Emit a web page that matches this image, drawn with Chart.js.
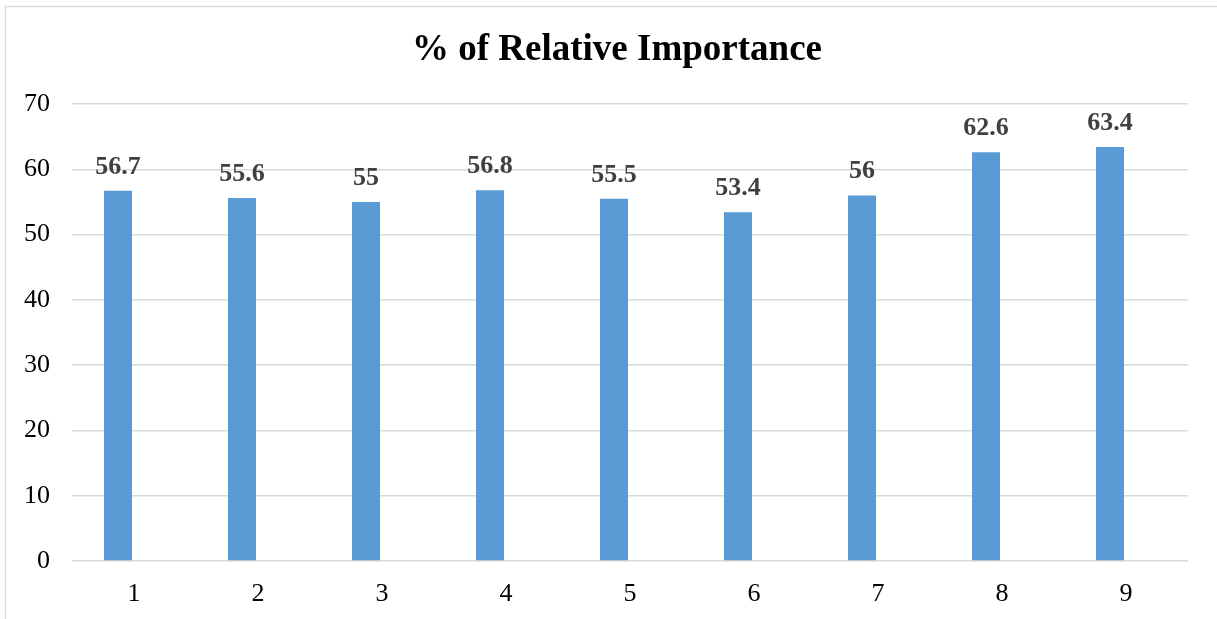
<!DOCTYPE html>
<html lang="en">
<head>
    <meta charset="UTF-8">
    <title>% of Relative Importance</title>
    <script src="https://cdn.jsdelivr.net/npm/chart.js"></script>
    <style>
        html, body {
            margin: 0;
            padding: 0;
            background: #fff;
        }
        #wrap {
            width: 1217px;
            height: 619px;
            position: relative;
        }
    </style>
</head>
<body>
    <div id="wrap">
        <canvas id="chartCanvas" width="1217" height="619"></canvas>
    </div>

    <script>
        const categories = ['1', '2', '3', '4', '5', '6', '7', '8', '9'];
        const importance = [56.7, 55.6, 55, 56.8, 55.5, 53.4, 56, 62.6, 63.4];
        // the original has a second, empty series next to each bar
        const emptySeries = [null, null, null, null, null, null, null, null, null];
        const yTicks = [0, 10, 20, 30, 40, 50, 60, 70];
        const chartTitle = '% of Relative Importance';

        const serif = '"Liberation Serif", "Times New Roman", serif';

        // outer frame + title + value labels
        const decorations = {
            id: 'decorations',
            beforeDraw(chart) {
                const ctx = chart.ctx;
                ctx.save();
                ctx.fillStyle = '#fff';
                ctx.fillRect(0, 0, chart.width, chart.height);
                ctx.strokeStyle = '#d9d9d9';
                ctx.lineWidth = 1.5;
                ctx.strokeRect(5.5, 6.5, 1240, 700);
                ctx.restore();
            },
            afterDatasetsDraw(chart) {
                const ctx = chart.ctx;
                ctx.save();
                ctx.fillStyle = '#000';
                ctx.font = 'bold 37px ' + serif;
                ctx.textAlign = 'center';
                ctx.textBaseline = 'alphabetic';
                ctx.fillText(chartTitle, 617, 60);

                ctx.fillStyle = '#404040';
                ctx.font = 'bold 26px ' + serif;
                const meta = chart.getDatasetMeta(0);
                meta.data.forEach((bar, i) => {
                    ctx.fillText(String(importance[i]), bar.x, bar.y - 17);
                });
                ctx.restore();
            }
        };

        new Chart(document.getElementById('chartCanvas'), {
            type: 'bar',
            data: {
                labels: categories,
                datasets: [{
                    data: importance,
                    backgroundColor: '#5b9bd5',
                    borderWidth: 0,
                    categoryPercentage: 0.516,
                    barPercentage: 0.875
                }, {
                    data: emptySeries,
                    backgroundColor: '#ed7d31',
                    borderWidth: 0,
                    categoryPercentage: 0.516,
                    barPercentage: 0.875
                }]
            },
            options: {
                responsive: false,
                animation: false,
                layout: {
                    padding: { top: 104, right: 29, bottom: 0, left: 0 }
                },
                plugins: {
                    legend: { display: false },
                    title: { display: false },
                    tooltip: { enabled: false }
                },
                scales: {
                    x: {
                        grid: { display: false, drawTicks: false },
                        border: { display: false },
                        ticks: {
                            color: '#000',
                            font: { family: serif, size: 26 },
                            padding: 18
                        },
                        afterFit(scale) { scale.height = 58; }
                    },
                    y: {
                        min: 0,
                        max: 70,
                        afterBuildTicks(scale) {
                            scale.ticks = yTicks.map(v => ({ value: v }));
                        },
                        grid: { color: '#d9d9d9', lineWidth: 1.5, drawTicks: false },
                        border: { display: false },
                        ticks: {
                            color: '#000',
                            font: { family: serif, size: 26 },
                            padding: 22
                        },
                        afterFit(scale) { scale.width = 72; }
                    }
                }
            },
            plugins: [decorations]
        });
    </script>
</body>
</html>
